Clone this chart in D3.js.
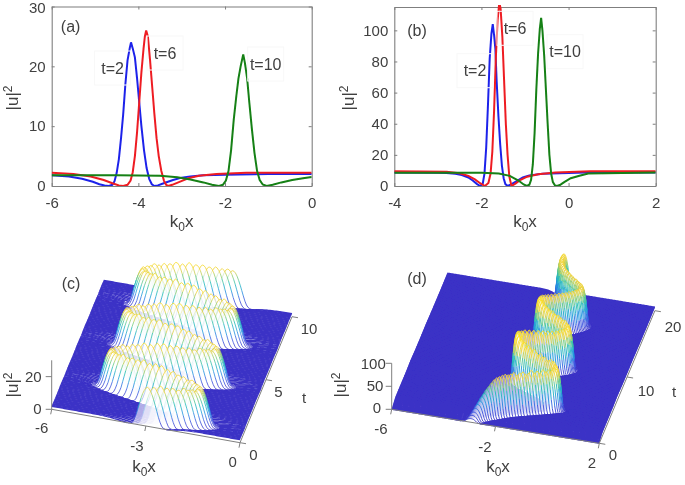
<!DOCTYPE html>
<html><head><meta charset="utf-8">
<script src="https://cdn.jsdelivr.net/npm/d3@7"></script>
<style>html,body{margin:0;background:#fff}svg{display:block}text{font-family:"Liberation Sans",Arial,sans-serif;fill:#404040}</style>
</head><body><svg id="c" width="685" height="485"></svg>
<script>
// Panel (a) profiles
const aXTicks=[-6,-4,-2,0], aYTicks=[0,10,20,30];
const aBlueX=[-6,-5.6,-5.3,-5.05,-4.9,-4.78,-4.68,-4.6,-4.55,-4.5,-4.45,-4.4,-4.35,-4.3,-4.25,-4.2,-4.17,-4.13,-4.08,-4.03,-3.98,-3.93,-3.87,-3.81,-3.75,-3.69,-3.63,-3.55,-3.4,-3.2,-3,-2.8,-2.5,-2,-1,0];
const aBlueY=[1.8,1.6,1.2,.7,.3,.08,0,.2,.8,2.2,4.5,8,12,17,21,23,24,23,21.5,18,14,10,6,3,1.2,.3,0,.1,.5,1,1.4,1.6,1.8,1.9,2,2];
const aRedX=[-6,-5.5,-5.1,-4.8,-4.6,-4.45,-4.35,-4.25,-4.18,-4.13,-4.08,-4.03,-3.98,-3.93,-3.88,-3.85,-3.82,-3.78,-3.73,-3.68,-3.63,-3.58,-3.53,-3.47,-3.41,-3.36,-3.31,-3.22,-3.05,-2.85,-2.6,-2.2,-1.5,0];
const aRedY=[2.2,2,1.6,1,.45,.1,0,.2,.9,2.3,5,9,14,19,23,25,26,25,21,16.5,12,8,5,2.5,.9,.2,0,.2,.7,1.3,1.7,2,2.2,2.2];
const aGreenX=[-6,-4.5,-3.5,-3.1,-2.8,-2.5,-2.3,-2.14,-2.05,-1.98,-1.92,-1.86,-1.8,-1.74,-1.69,-1.64,-1.58,-1.54,-1.49,-1.44,-1.38,-1.32,-1.26,-1.2,-1.13,-1.04,-.9,-.7,-.45,-.2,0];
const aGreenY=[1.8,1.8,1.7,1.45,1.1,.6,.2,0,.2,.9,2.5,6,11,15,18,20,22,20.5,18,14,9.5,5.5,2.5,1,.25,0,.2,.6,1,1.3,1.5];
// Panel (b) profiles
const bXTicks=[-4,-2,0,2], bYTicks=[0,20,40,60,80,100];
const bBlueX=[-4,-3,-2.8,-2.6,-2.45,-2.3,-2.2,-2.1,-2.03,-1.97,-1.93,-1.89,-1.85,-1.81,-1.77,-1.74,-1.71,-1.68,-1.65,-1.61,-1.57,-1.53,-1.49,-1.45,-1.4,-1.32,-1.2,-1.05,-.9,-.6,-.2,.4,2];
const bBlueY=[8.6,8.5,8.3,7.8,7,5.5,3.5,1.2,0,1.5,8,25,52,82,98,104,97,88,67,45,27,13,5,1.2,0,1,3,5.5,6.8,7.8,8.2,8.6,8.6];
const bRedX=[-4,-2.8,-2.5,-2.3,-2.15,-2.03,-1.92,-1.84,-1.79,-1.75,-1.71,-1.67,-1.63,-1.59,-1.56,-1.52,-1.48,-1.44,-1.4,-1.36,-1.31,-1.22,-1.1,-.95,-.7,-.3,.5,2];
const bRedY=[9.5,9.2,8.2,6.5,4.2,1.8,0,2,8,22,48,82,106,118,114,96,68,40,20,6,0,1.5,4,6,7.6,8.6,9.4,9.5];
const bGreenX=[-4,-2,-1.6,-1.35,-1.15,-1.03,-.96,-.9,-.86,-.82,-.78,-.74,-.7,-.66,-.63,-.6,-.56,-.52,-.48,-.44,-.4,-.36,-.31,-.27,-.2,-.1,.05,.25,.45,2];
const bGreenY=[8.5,8.5,8,6.5,3.5,1,0,.8,4,14,34,62,85,101,108,100,84,62,40,20,8,2.5,.3,0,.6,2.5,5,6.6,8,8.6];
// Labels
const aLabels=["t=2","t=6","t=10"];
const bLabels=["t=2","t=6","t=10"];
// Waterfall (c): soliton centre and height per time step
const cTMax=10, cXTicks=[-6,-3,0], cTTicks=[0,5,10], cZTicks=[0,20];
const cCenter=[-2.95,-2.75,-2.55,-2.36,-2.18,-2.01,-1.85,-1.72,-1.61,-1.52,-1.45,-1.41,-1.40,-1.41,-1.45,-1.52,-1.61,-1.72,-1.85,-2.01,-2.18,-2.36,-2.55,-2.75,
-2.95,-3.15,-3.35,-3.54,-3.73,-3.89,-4.05,-4.18,-4.29,-4.38,-4.45,-4.49,-4.50,-4.49,-4.45,-4.38,-4.29,-4.18,-4.05,-3.89,-3.73,-3.54,-3.35,-3.15,
-2.96,-2.76,-2.57,-2.38,-2.19,-2.03,-1.87,-1.74,-1.62,-1.53,-1.46,-1.42,-1.41,-1.42,-1.46,-1.53,-1.62,-1.74,-1.87,-2.03,-2.19,-2.38,-2.57,-2.77,
-2.97,-3.18,-3.38,-3.57,-3.75,-3.92,-4.08,-4.21,-4.32,-4.41,-4.48,-4.52,-4.53,-4.52,-4.48,-4.41,-4.32,-4.21,-4.08,-3.92,-3.75,-3.57,-3.38,-3.17,
-2.98,-2.78,-2.58,-2.39,-2.2,-2.04,-1.88,-1.75,-1.63,-1.54,-1.47,-1.43,-1.42,-1.43,-1.47,-1.54,-1.63,-1.75,-1.88,-2.04,-2.2,-2.39,-2.58,-2.78,
-2.98,-3.19,-3.39,-3.58,-3.77,-3.94,-4.1,-4.23,-4.33,-4.43,-4.5,-4.54,-4.55,-4.54,-4.5,-4.43,-4.33,-4.23,-4.1,-3.94,-3.77,-3.58,-3.39,-3.19,
-2.98,-2.78,-2.58,-2.39,-2.2,-2.03,-1.88];
const cPeak=[24,24,25,24,24,23,24,23,23,22,23,22,22,23,22,23,23,24,23,24,24,25,25,26,
26,25,26,25,25,24,25,24,24,24,23,24,23,24,23,24,24,25,24,25,25,26,25,26,
26,25,25,24,24,23,24,23,23,22,23,22,22,23,22,23,23,24,23,24,24,25,25,26,
26,25,26,25,25,24,25,24,24,24,23,24,23,24,23,24,24,25,24,25,25,26,25,26,
26,25,25,24,24,23,24,23,23,22,23,22,22,23,22,23,23,24,23,24,24,25,25,26,
26,25,26,25,25,24,25,24,24,24,23,24,23,24,23,24,24,25,24,25,25,26,25,26,
25,25,24,24,23,23,22];
const cProfileOff=[-7,-1.6,-1.2,-.95,-.75,-.6,-.5,-.44,-.37,-.3,-.22,-.14,-.07,0,.07,.14,.22,.3,.37,.44,.5,.6,.75,.95,1.2,1.6,7];
const cProfileVal=[.08,.08,.065,.04,.015,0,.02,.08,.22,.42,.65,.84,.95,1,.95,.84,.65,.42,.22,.08,.02,0,.015,.04,.065,.08,.08];
// Waterfall (d)
const dTMax=20, dXTicks=[-6,-2,2], dTTicks=[0,10,20], dZTicks=[0,50,100];
const dCenter=[-2.95,-2.9,-2.85,-2.79,-2.72,-2.65,-2.58,-2.5,-2.42,-2.34,-2.25,-2.16,-2.07,-1.98,-1.88,-1.78,-1.68,-1.58,-1.48,-1.38,-1.27,-1.17,-1.07,-.97,-.87,-.77,-.67,-.57,-.47,-.37,-.28,-.21,-.15,-.1,-.07,-.05,-.04,-.05,-.07,-.1,-.13,
-.16,-.2,-.23,-.27,-.35,-.44,-.53,-.62,-.71,-.8,-.89,-.98,-1.07,-1.16,-1.25,-1.33,-1.42,-1.5,-1.57,-1.64,-1.7,-1.75,-1.79,-1.83,-1.84,-1.85,-1.84,-1.82,-1.78,-1.74,-1.69,-1.63,-1.56,-1.49,-1.42,-1.34,-1.26,-1.18,-1.1,-1.02,
-.94,-.86,-.78,-.71,-.64,-.57,-.51,-.45,-.4,-.35,-.31,-.28,-.25,-.23,-.22,-.22,-.23,-.25,-.28,-.31,-.35,-.4,-.45,-.5,-.56,-.62,-.68,-.74,-.8,-.87,-.93,-1,-1.06,-1.13,-1.19,-1.26,-1.31,-1.37,-1.42,-1.47,
-1.51,-1.55,-1.58,-1.61,-1.63,-1.65,-1.66,-1.66,-1.66,-1.65,-1.64,-1.62,-1.59,-1.56,-1.52,-1.48,-1.43,-1.38,-1.33,-1.27,-1.21,-1.15,-1.09,-1.03,-.97,-.92,-.86,-.81,-.76,-.71,-.66,-.62,-.58,-.54,-.5,-.47,-.44,-.42,-.41,-.4,
-.4,-.41,-.43,-.45,-.48,-.51,-.55,-.59,-.63,-.68,-.73,-.78,-.83,-.88,-.93,-.98,-1.03,-1.08,-1.12,-1.17,-1.21,-1.25,-1.29,-1.32,-1.35,-1.38,-1.41,-1.43,-1.45,-1.47,-1.49,-1.5,-1.51,-1.52,-1.53,-1.53,-1.53,-1.52,-1.51,-1.5];
const dPeak=[8,14,20,27,35,42,50,57,65,71,78,
84,88,90,92,94,92,94,96,90,94,96,90,92,98,91,95,90,97,92,95,90,94,97,90,93,95,90,96,92,94,92,97,90,94,96,92,90,95,93,97,92,96,100,95,98,102,97,104,100,106,
104,110,106,112,108,113,107,112,108,110,106,110,104,108,102,106,100,104,98,102,
96,100,94,98,92,97,94,98,93,97,92,96,94,98,92,96,93,97,92,95,94,98,93,96,92,97,94,98,93,96,95,99,94,98,96,100,97,101,98,102,
99,103,98,102,99,97,101,96,100,95,99,94,98,93,96,92,95,90,94,90,93,89,92,88,91,88,90,86,90,87,89,86,89,87,88,86,88,87,88,87,
87,85,88,84,87,83,86,84,85,83,86,84,85,84,86,84,87,85,87,85,88,86,88,86,89,87,89,87,90,88,90,88,91,89,91,90,92,91,92,92];
const dProfileOff=[-8,-.85,-.6,-.48,-.4,-.34,-.3,-.26,-.22,-.18,-.13,-.09,-.05,0,.05,.09,.13,.18,.22,.26,.3,.34,.4,.48,.6,.85,8];
const dProfileVal=[.08,.08,.065,.045,.02,0,.02,.1,.3,.55,.78,.9,.97,1,.97,.9,.78,.55,.3,.1,.02,0,.02,.045,.065,.08,.08];

const ink="#404040", frame="#7f7f7f";
const blue="#1e22ea", red="#ee1c24", green="#148014";
const svg=d3.select("#c");
svg.append("defs").append("filter").attr("id","soft").attr("filterUnits","userSpaceOnUse")
  .attr("x",0).attr("y",0).attr("width",685).attr("height",485)
  .append("feGaussianBlur").attr("stdDeviation",0.55);
const root=svg.append("g").attr("filter","url(#soft)");

function uLabel(g,x,y){
  const t=g.append("text").attr("transform",`translate(${x},${y}) rotate(-90)`).attr("text-anchor","middle").attr("font-size",17);
  t.append("tspan").text("|u|");
  t.append("tspan").attr("dy",-6).attr("font-size",12).text("2");
}
function kLabel(g,x,y){
  const t=g.append("text").attr("x",x).attr("y",y).attr("text-anchor","middle").attr("font-size",17);
  t.append("tspan").text("k");
  t.append("tspan").attr("dy",4).attr("font-size",12).text("0");
  t.append("tspan").attr("dy",-4).text("x");
}
function plot2d(o){
  const g=root.append("g");
  const x=d3.scaleLinear().domain(o.xd).range([o.l,o.r]);
  const y=d3.scaleLinear().domain(o.yd).range([o.b,o.t]);
  const clip="clip"+o.id;
  g.append("clipPath").attr("id",clip).append("rect").attr("x",o.l).attr("y",o.t-2).attr("width",o.r-o.l).attr("height",o.b-o.t+2);
  const ax=(gen,tr,lab)=>{
    const a=g.append("g").attr("transform",tr).call(gen.tickSizeInner(3).tickSizeOuter(0).tickPadding(3).tickFormat(lab?(d=>String(d)):""));
    a.select(".domain").attr("stroke",frame).attr("stroke-width",1.1);
    a.selectAll("line").attr("stroke",frame);
    a.selectAll("text").attr("font-size",15).attr("fill",ink);
    return a;
  };
  const bx=ax(d3.axisBottom(x).tickValues(o.xt),`translate(0,${o.b})`,true);
  bx.selectAll("line").attr("y2",-3); bx.selectAll("text").attr("dy","1.05em");
  ax(d3.axisTop(x).tickValues(o.xt),`translate(0,${o.t})`,false).selectAll("line").attr("y2",3);
  const ly=ax(d3.axisLeft(y).tickValues(o.yt),`translate(${o.l},0)`,true);
  ly.selectAll("line").attr("x2",3);
  ly.selectAll("text").attr("x",-6).attr("dy",d=>d===o.yd[1]?"0.42em":"0.32em");
  ax(d3.axisRight(y).tickValues(o.yt),`translate(${o.r},0)`,false).selectAll("line").attr("x2",-3);
  const line=d3.line().x(d=>x(d[0])).y(d=>y(d[1])).curve(d3.curveLinear);
  o.series.forEach(s=>{
    g.append("path").datum(d3.zip(s.x,s.y)).attr("d",line).attr("fill","none").attr("stroke",s.c).attr("stroke-width",2).attr("clip-path",`url(#${clip})`);
  });
  o.labels.forEach((l,i)=>{
    const p=o.lpos[i];
    g.append("rect").attr("x",p[0]-18).attr("y",p[1]-17).attr("width",36).attr("height",34).attr("fill","none").attr("stroke","#f8f8f8");
    g.append("text").attr("x",p[0]).attr("y",p[1]+5.5).attr("text-anchor","middle").attr("font-size",16).text(l);
  });
  g.append("text").attr("x",o.tagX).attr("y",o.tagY+5.5).attr("text-anchor","middle").attr("font-size",16).text(o.tag);
  uLabel(g,o.ux,o.uy); kLabel(g,o.kx,o.ky);
}
plot2d({id:"a",xd:[-6,0],yd:[0,30],l:51.7,r:311.7,t:6.5,b:186,xt:aXTicks,yt:aYTicks,tag:"(a)",tagX:70.6,tagY:26,ux:18,uy:98,kx:181.7,ky:227,labels:aLabels,lpos:[[112.6,68],[165,53],[265.7,64]],
 series:[{x:aBlueX,y:aBlueY,c:blue},{x:aRedX,y:aRedY,c:red},{x:aGreenX,y:aGreenY,c:green}]});
plot2d({id:"b",xd:[-4,2],yd:[0,115],l:394.3,r:655.7,t:7,b:186,xt:bXTicks,yt:bYTicks,tag:"(b)",tagX:417,tagY:30,ux:354,uy:98,kx:525,ky:227,labels:bLabels,lpos:[[475,70.7],[515,28.3],[565,51.7]],
 series:[{x:bBlueX,y:bBlueY,c:blue},{x:bRedX,y:bRedY,c:red},{x:bGreenX,y:bGreenY,c:green}]});

const parula=d3.scaleLinear().domain([0,.2,.4,.58,.72,.86,1]).range(["#3b31c6","#3a55e0","#1c98de","#22bdb4","#7ecb78","#ecd03c","#f8dc28"]);

function waterfall(o){
  const g=root.append("g");
  const xPx=d3.scaleLinear().domain(o.xd).range([o.o[0],o.ox[0]]);
  const xPy=d3.scaleLinear().domain(o.xd).range([o.o[1],o.ox[1]]);
  const tPx=d3.scaleLinear().domain([0,o.tMax]).range([0,o.ot[0]-o.o[0]]);
  const tPy=d3.scaleLinear().domain([0,o.tMax]).range([0,o.ot[1]-o.o[1]]);
  const zPy=d3.scaleLinear().domain([0,o.zMax]).range([0,-o.zLen]);
  const shape=d3.scaleLinear().domain(o.pOff).range(o.pVal);
  const P=(x,t,z)=>[xPx(x)+tPx(t),xPy(x)+tPy(t)+zPy(z)];
  const xs=d3.range(o.xd[0],o.xd[1]+1e-6,o.step);
  const n=o.center.length;
  const area=d3.area().x(d=>P(d.x,d.t,0)[0]).y0(d=>P(d.x,d.t,0)[1]).y1(d=>P(d.x,d.t,d.z)[1]);
  const line=d3.line().x(d=>P(d.x,d.t,d.z)[0]).y(d=>P(d.x,d.t,d.z)[1]);
  const floor=d3.line().defined(d=>Math.abs(d.x-d.c)>=o.core).x(d=>P(d.x,d.t,d.z)[0]).y(d=>P(d.x,d.t,d.z)[1]);
  const band=d3.line().defined(d=>{const a=Math.abs(d.x-d.c);return a>=o.bandR[0]&&a<=o.bandR[1];}).x(d=>P(d.x,d.t,d.z)[0]).y(d=>P(d.x,d.t,d.z)[1]);
  for(let i=n-1;i>=0;i--){
    const t=i/(n-1)*o.tMax, c=o.center[i], pk=o.peak[i];
    const pts=xs.map(x=>({x,t,c,z:shape(x-c)*pk}));
    g.append("path").attr("d",area(pts)).attr("fill","#fff").attr("fill-opacity",o.alpha);
    g.append("path").attr("d",floor(pts)).attr("fill","none").attr("stroke",parula(0)).attr("stroke-width",o.floorW);
    if(o.bandR&&i%4===0) g.append("path").attr("d",band(pts)).attr("fill","none").attr("stroke","#7f7fe0").attr("stroke-width",.7).attr("stroke-dasharray","3 4");
    const core=pts.filter(d=>Math.abs(d.x-c)<o.core+o.step);
    for(let k=0;k<core.length-1;k++){
      const a=core[k],b=core[k+1];
      g.append("path").attr("d",line([a,b])).attr("fill","none")
       .attr("stroke",parula((a.z+b.z)/2/o.cMax)).attr("stroke-width",o.w);
    }
  }
  // axes
  const ax=root.append("g").attr("stroke",frame).attr("fill","none");
  const seg=(a,b)=>ax.append("line").attr("x1",a[0]).attr("y1",a[1]).attr("x2",b[0]).attr("y2",b[1]);
  seg(P(o.xd[0],0,0),P(o.xd[1],0,0));
  seg(P(o.xd[1],0,0),P(o.xd[1],o.tMax,0));
  seg(P(o.xd[0],0,0),P(o.xd[0],0,o.zMax));
  o.xt.forEach(v=>{const p=P(v,0,0);seg(p,[p[0]-1,p[1]+5]);});
  o.tt.forEach(v=>{const p=P(o.xd[1],v,0);seg(p,[p[0]+6,p[1]+1]);});
  o.zt.forEach(v=>{const p=P(o.xd[0],0,v);seg(p,[p[0]-6,p[1]]);});
  const tx=(s,x,y)=>g.append("text").attr("x",x).attr("y",y+5.4).attr("text-anchor","middle").attr("font-size",15).text(s);
  o.xt.forEach((v,j)=>tx(v,o.xl[j][0],o.xl[j][1]));
  o.tt.forEach((v,j)=>tx(v,o.tl[j][0],o.tl[j][1]));
  o.zt.forEach((v,j)=>tx(v,o.zl[j][0],o.zl[j][1]));
  tx("t",o.tName[0],o.tName[1]);
  g.append("text").attr("x",o.tagX).attr("y",o.tagY+5.5).attr("text-anchor","middle").attr("font-size",16).text(o.tag);
  uLabel(g,o.ux,o.uy); kLabel(g,o.kx,o.ky);
}
waterfall({xd:[-6,0],tMax:cTMax,zMax:30,zLen:49,o:[51.7,409.3],ox:[240,442.7],ot:[103.7,283.3],step:.05,core:.6,w:.8,floorW:1.5,cMax:25,bandR:[.75,1.5],alpha:.6,
 center:cCenter,peak:cPeak,pOff:cProfileOff,pVal:cProfileVal,xt:cXTicks,tt:cTTicks,zt:cZTicks,
 xl:[[41.7,428],[137,446],[232.7,461.7]],tl:[[253.5,455],[278.5,392],[309,329]],zl:[[37.3,409],[33.3,377]],tName:[304,398],tag:"(c)",tagX:71,tagY:283,ux:18,uy:385,kx:144,ky:472});
waterfall({xd:[-6,2],tMax:dTMax,zMax:100,zLen:46,o:[391.7,409.3],ox:[599.3,443.3],ot:[447.3,276.7],step:.04,core:.34,w:.9,floorW:1.7,cMax:96,alpha:.3,
 center:dCenter,peak:dPeak,pOff:dProfileOff,pVal:dProfileVal,xt:dXTicks,tt:dTTicks,zt:dZTicks,
 xl:[[381,429],[485,447],[592,463]],tl:[[613,455],[646,391],[673,327]],zl:[[377,408],[375,386],[373.3,364]],tName:[674,392],tag:"(d)",tagX:417,tagY:278,ux:346,uy:385,kx:498,ky:472});
</script></body></html>
